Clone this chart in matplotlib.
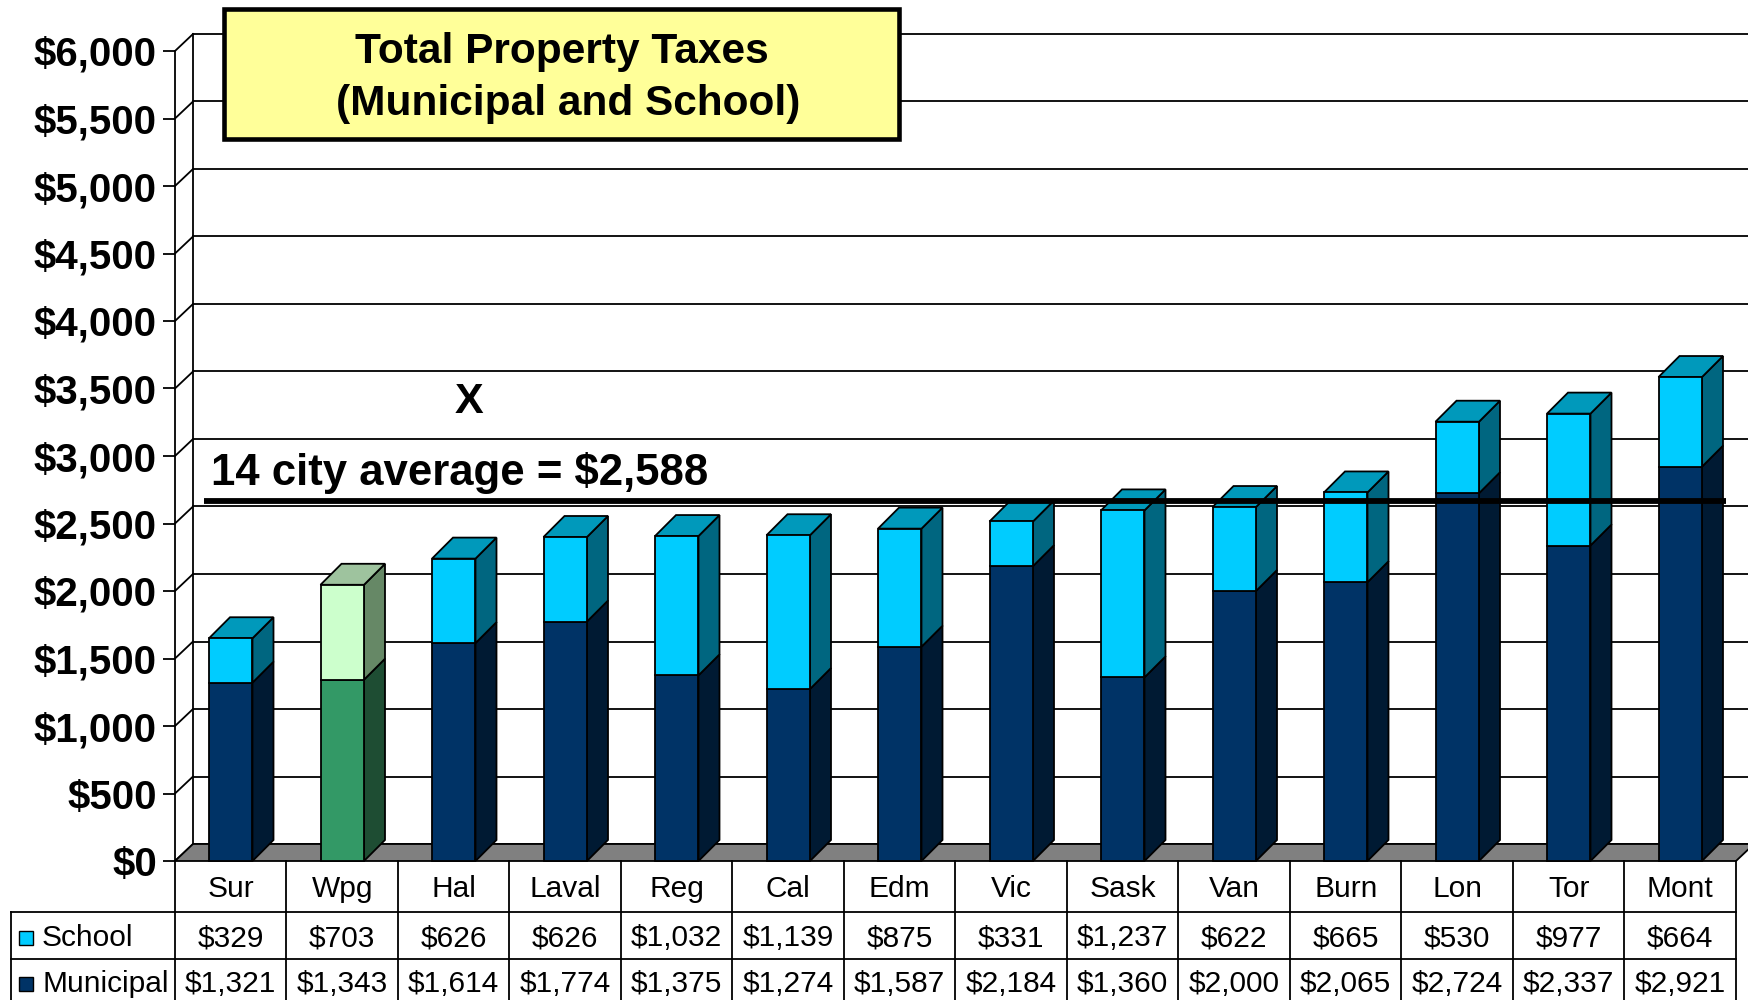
import matplotlib
matplotlib.use('Agg')
import matplotlib.pyplot as plt
from matplotlib.patches import Polygon, Rectangle
from matplotlib.transforms import ScaledTranslation

# ---------------- data ----------------
cities = ['Sur', 'Wpg', 'Hal', 'Laval', 'Reg', 'Cal', 'Edm', 'Vic', 'Sask',
          'Van', 'Burn', 'Lon', 'Tor', 'Mont']
school = [329, 703, 626, 626, 1032, 1139, 875, 331, 1237, 622, 665, 530, 977, 664]
municipal = [1321, 1343, 1614, 1774, 1375, 1274, 1587, 2184, 1360, 2000, 2065,
             2724, 2337, 2921]
yticks = list(range(0, 6001, 500))
ytick_labels = ['${:,}'.format(v) for v in yticks]
highlight = 'Wpg'
series_names = ['School', 'Municipal']

# ---------------- styles ----------------
plt.rcParams['font.family'] = ['Liberation Sans', 'DejaVu Sans']
W, H = 1748, 1000
DPI = 100
fig = plt.figure(figsize=(W / DPI, H / DPI), dpi=DPI)
fig.patch.set_facecolor('white')

MUN = dict(front='#003366', side='#001A33', top='#00264d')
SCH = dict(front='#00CCFF', side='#006680', top='#0099BB')
MUN_H = dict(front='#339966', side='#1E4D33', top='#2a7a50')
SCH_H = dict(front='#CCFFCC', side='#668866', top='#9EC39E')

X0_PX, X1_PX, TOP_PX, BOT_PX = 175, 1736, 51, 861


def px_rect(l, t, r, b):
    return [l / W, 1 - b / H, (r - l) / W, (b - t) / H]


ax = fig.add_axes(px_rect(X0_PX, TOP_PX, X1_PX, BOT_PX))
n = len(cities)
x0, x1 = -0.5, n - 0.5
ax.set_xlim(x0, x1)
ax.set_ylim(0, 6000)
ax.patch.set_visible(False)
for s in ['top', 'right', 'bottom']:
    ax.spines[s].set_visible(False)
ax.spines['left'].set_linewidth(1.3)
ax.set_xticks([])
ax.set_yticks(yticks)
ax.set_yticklabels(ytick_labels, fontsize=29, fontweight='bold')
ax.tick_params(axis='y', length=9, width=1.3, pad=4, direction='out')

ppx = (X1_PX - X0_PX) / (x1 - x0)          # pixels per category
ppy = (BOT_PX - TOP_PX) / 6000.0           # pixels per dollar
wdx, wdy = 18 / ppx, 17 / ppy              # wall depth in data units
bdx, bdy = 21 / ppx, 21 / ppy              # bar depth in data units

EW = 1.3
# back wall gridlines and left side wall connectors
for v in yticks:
    ax.plot([x0 + wdx, x1 + wdx + 1], [v + wdy, v + wdy], color='black',
            lw=EW, clip_on=False, zorder=1)
    ax.plot([x0, x0 + wdx], [v, v + wdy], color='black', lw=EW,
            clip_on=False, zorder=1)
ax.plot([x0 + wdx, x0 + wdx], [wdy, 6000 + wdy], color='black', lw=EW,
        clip_on=False, zorder=1)

# floor
ax.add_patch(Polygon([(x0, 0), (x1, 0), (x1 + wdx, wdy), (x0 + wdx, wdy)],
                     closed=True, fc='#808080', ec='black', lw=EW,
                     clip_on=False, zorder=2))


def box(xc, w, y0, y1, col, top=False, z=3):
    xl, xr = xc - w / 2, xc + w / 2
    ax.add_patch(Polygon([(xl, y0), (xr, y0), (xr, y1), (xl, y1)], closed=True,
                         fc=col['front'], ec='black', lw=EW, clip_on=False,
                         zorder=z + 0.2))
    ax.add_patch(Polygon([(xr, y0), (xr + bdx, y0 + bdy), (xr + bdx, y1 + bdy),
                          (xr, y1)], closed=True, fc=col['side'], ec='black',
                         lw=EW, clip_on=False, zorder=z + 0.1))
    if top:
        ax.add_patch(Polygon([(xl, y1), (xr, y1), (xr + bdx, y1 + bdy),
                              (xl + bdx, y1 + bdy)], closed=True, fc=col['top'],
                             ec='black', lw=EW, clip_on=False, zorder=z + 0.1))


bw = 0.39
for i, c in enumerate(cities):
    mc = MUN_H if c == highlight else MUN
    sc = SCH_H if c == highlight else SCH
    z = 3 + i * 0.01
    box(i, bw, 0, municipal[i], mc, top=False, z=z)
    box(i, bw, municipal[i], municipal[i] + school[i], sc, top=True, z=z)

# average line
totals = [m + s for m, s in zip(municipal, school)]
avg = sum(totals) / len(totals)
off = ScaledTranslation(0, 11 / DPI, fig.dpi_scale_trans)
ax.plot([x0 + 29 / ppx, x1 - 10 / ppx], [avg, avg], color='black', lw=4.2,
        transform=ax.transData + off, clip_on=False, zorder=10,
        solid_capstyle='butt')
ax.text(x0 + 36 / ppx, avg + 283, '14 city average = ${:,.0f}'.format(avg),
        fontsize=31.5, fontweight='bold', ha='left', va='center', zorder=11)
ax.text(2.14, 3400, 'X', fontsize=31, fontweight='bold', ha='center',
        va='center', zorder=11)

# ---------------- title box ----------------
fig.patches.append(Rectangle((224 / W, 1 - 139 / H), (899 - 224) / W,
                             (139 - 9) / H, transform=fig.transFigure,
                             fc='#FFFF99', ec='black', lw=3.3, zorder=20))
fig.text(562 / W, 1 - 52 / H, 'Total Property Taxes', fontsize=30.5,
         fontweight='bold', ha='center', va='center', zorder=21)
fig.text(568 / W, 1 - 104 / H, '(Municipal and School)', fontsize=30.5,
         fontweight='bold', ha='center', va='center', zorder=21)

# ---------------- data table ----------------
TL_PX = 11
tax = fig.add_axes(px_rect(TL_PX, BOT_PX, X1_PX, H))
lab_w = (X0_PX - TL_PX) / ppx
tax.set_xlim(x0 - lab_w, x1)
tax.set_ylim(H, BOT_PX)
tax.axis('off')
rows = [BOT_PX, 912, 959, 1006]
for y in rows[1:]:
    tax.plot([x0 - lab_w, x1], [y, y], color='black', lw=1.3, clip_on=False)
for k in range(n + 1):
    tax.plot([x0 + k, x0 + k], [BOT_PX, 1006], color='black', lw=1.3,
             clip_on=False)
tax.plot([x0 - lab_w, x0 - lab_w], [rows[1], 1006], color='black', lw=1.3,
         clip_on=False)
FS = 21.5
for i, c in enumerate(cities):
    tax.text(i, (rows[0] + rows[1]) / 2 + 2.5, c, fontsize=FS, ha='center',
             va='center')
    tax.text(i, (rows[1] + rows[2]) / 2 + 3, '${:,}'.format(school[i]),
             fontsize=FS, ha='center', va='center')
    tax.text(i, (rows[2] + rows[3]) / 2 + 1.5, '${:,}'.format(municipal[i]),
             fontsize=FS, ha='center', va='center')
for r, (name, col) in enumerate(zip(series_names, [SCH, MUN])):
    yc = (rows[r + 1] + rows[r + 2]) / 2 + (3 if r == 0 else 1.5)
    mx = x0 - lab_w + 8 / ppx
    tax.add_patch(Rectangle((mx, yc - 7), 14 / ppx, 14, fc=col['front'],
                            ec='black', lw=1.0, clip_on=False))
    tax.text(x0 - lab_w + 31 / ppx, yc, name,
             fontsize=FS, ha='left', va='center')

fig.savefig('out.png', dpi=DPI, facecolor='white')
